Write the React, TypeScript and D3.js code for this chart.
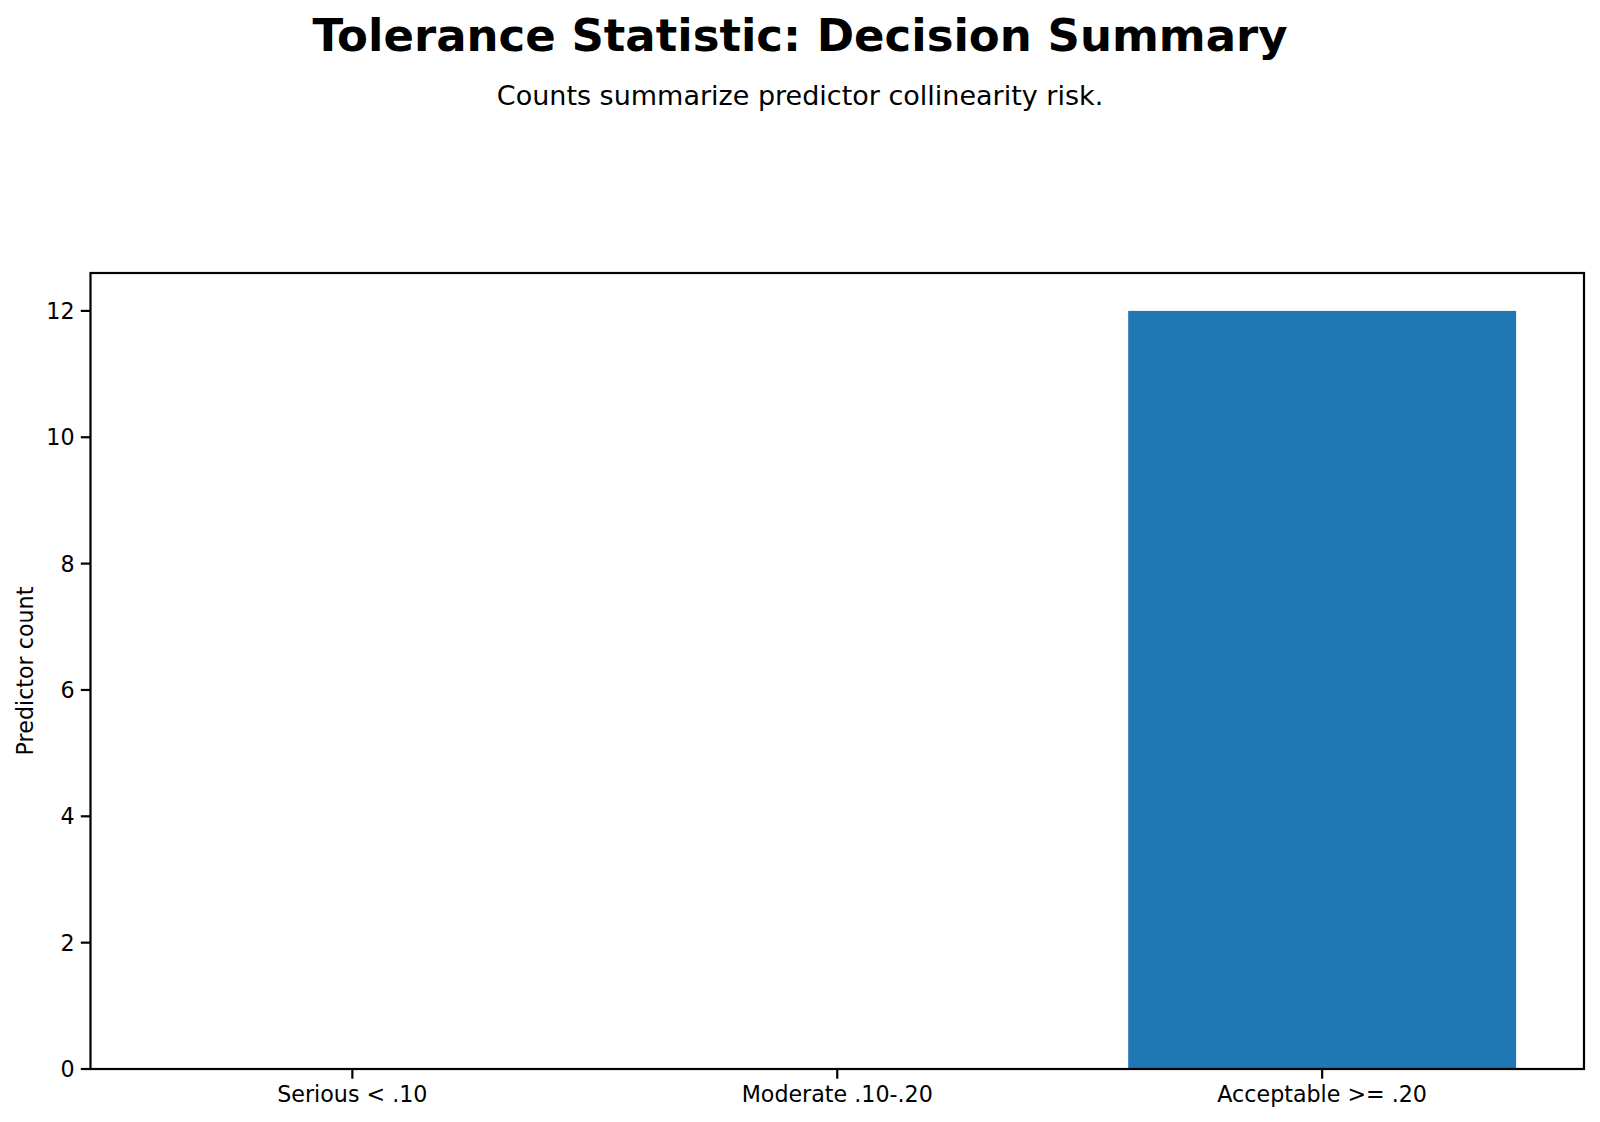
import React from "react";
import * as d3 from "d3";

const categories = ["Serious < .10", "Moderate .10-.20", "Acceptable >= .20"];
const counts = [0, 0, 12];
const yTicks = [0, 2, 4, 6, 8, 10, 12];

const W = 1600;
const H = 1122;
const left = 90.5;
const right = 1584;
const top = 273;
const bottom = 1069;
const font = "DejaVu Sans, sans-serif";

export default function App() {
  const x = d3.scaleLinear().domain([-0.54, 2.54]).range([left, right]);
  const y = d3.scaleLinear().domain([0, 12.6]).range([bottom, top]);
  const bw = 0.8;
  return (
    <svg width={W} height={H} style={{ position: "absolute", left: 0, top: 0, background: "#fff" }}>
      <rect x={0} y={0} width={W} height={H} fill="#fff" />
      <text x={800} y={51} textAnchor="middle" fontFamily={font} fontWeight="bold" fontSize={45}>
        Tolerance Statistic: Decision Summary
      </text>
      <text x={800} y={105} textAnchor="middle" fontFamily={font} fontSize={27}>
        Counts summarize predictor collinearity risk.
      </text>
      {counts.map((c, i) =>
        c > 0 ? (
          <rect
            key={i}
            x={x(i - bw / 2)}
            y={y(c)}
            width={x(i + bw / 2) - x(i - bw / 2)}
            height={y(0) - y(c)}
            fill="#1f77b4"
          />
        ) : null
      )}
      <rect x={left} y={top} width={right - left} height={bottom - top} fill="none" stroke="#000" strokeWidth={2.2} />
      {yTicks.map((t) => (
        <g key={t}>
          <line x1={left - 9.7} x2={left} y1={y(t)} y2={y(t)} stroke="#000" strokeWidth={2.2} />
          <text x={left - 16} y={y(t)} dy="0.36em" textAnchor="end" fontFamily={font} fontSize={22.2}>
            {t}
          </text>
        </g>
      ))}
      {categories.map((c, i) => (
        <g key={c}>
          <line x1={x(i)} x2={x(i)} y1={bottom} y2={bottom + 9.7} stroke="#000" strokeWidth={2.2} />
          <text x={x(i)} y={1102} textAnchor="middle" fontFamily={font} fontSize={22.2}>
            {c}
          </text>
        </g>
      ))}
      <text
        transform={`translate(33, ${(top + bottom) / 2}) rotate(-90)`}
        textAnchor="middle"
        fontFamily={font}
        fontSize={22.2}
      >
        Predictor count
      </text>
    </svg>
  );
}
